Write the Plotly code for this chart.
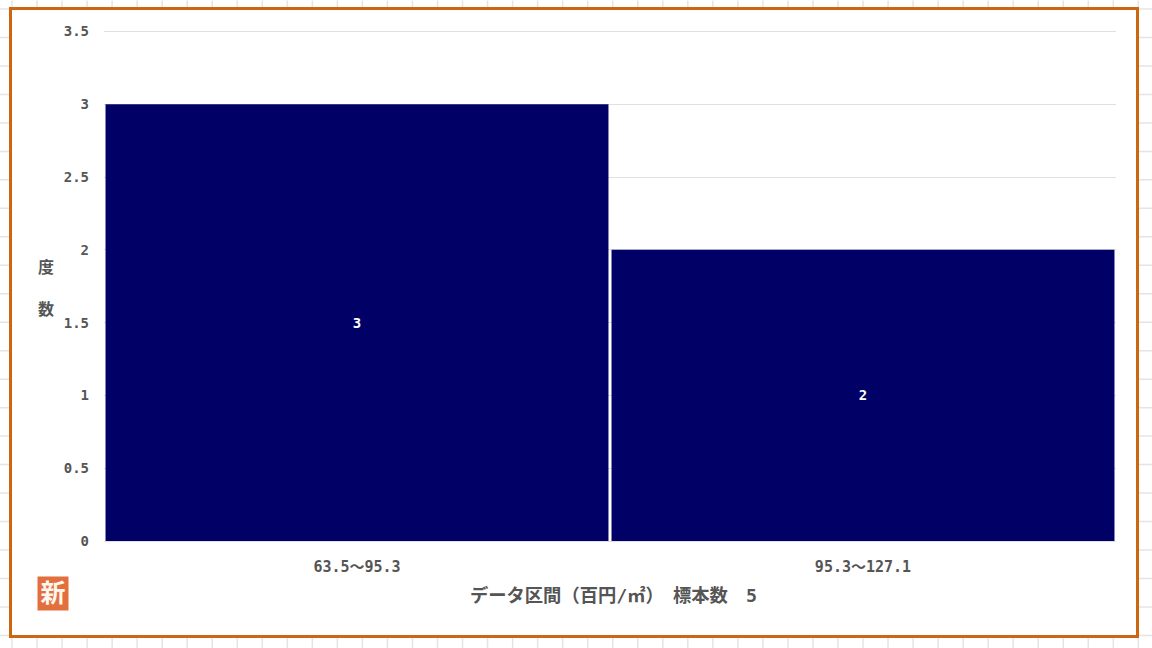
import plotly.graph_objects as go

categories = ["63.5～95.3", "95.3～127.1"]
frequencies = [3, 2]
y_ticks = [0, 0.5, 1, 1.5, 2, 2.5, 3, 3.5]
y_tick_labels = ["0", "0.5", "1", "1.5", "2", "2.5", "3", "3.5"]
x_title = "データ区間（百円/㎡）　標本数　5"
y_title = "度<br><br>数"
stamp = "新"

W, H = 1152, 648
L, R, T, B = 104, 36, 29.5, 107
PW, PH = W - L - R, H - T - B
px = lambda v: (v - L) / PW
py = lambda v: 1 - (v - T) / PH

FONT = "DejaVu Sans Mono, Noto Sans CJK JP, sans-serif"
TXT = "#555555"

shapes = []
# spreadsheet grid behind the chart panel
for i in range(47):
    xv = 12 + 25.03 * i
    shapes.append(dict(type="line", xref="paper", yref="paper", layer="below",
                       x0=px(xv), x1=px(xv), y0=py(0), y1=py(H),
                       line=dict(color="#e4e4e4", width=1.5)))
for j in range(23):
    yv = 8.5 + 28.5 * j
    shapes.append(dict(type="line", xref="paper", yref="paper", layer="below",
                       x0=px(0), x1=px(W), y0=py(yv), y1=py(yv),
                       line=dict(color="#e4e4e4", width=1.5)))
# chart panel with orange frame
shapes.append(dict(type="rect", xref="paper", yref="paper", layer="below",
                   x0=px(10.5), x1=px(1137.5), y0=py(8), y1=py(636.5),
                   fillcolor="white", line=dict(color="#CC6611", width=3)))

fig = go.Figure(go.Bar(
    x=categories, y=frequencies,
    marker=dict(color="#000066", line=dict(width=0)),
    text=[str(v) for v in frequencies],
    textposition="inside", insidetextanchor="middle",
    textangle=0,
    textfont=dict(color="white", size=14, family=FONT, weight="bold"),
    hoverinfo="skip",
))

fig.update_layout(
    width=W, height=H,
    margin=dict(l=L, r=R, t=T, b=B, pad=0),
    paper_bgcolor="white", plot_bgcolor="rgba(0,0,0,0)",
    bargap=0.006, showlegend=False,
    font=dict(family=FONT, color=TXT, size=14),
    shapes=shapes,
    xaxis=dict(
        type="category", range=[-0.5, 1.5], showgrid=False, ticks="",
        showline=False, zeroline=False, ticklabelstandoff=15,
        tickfont=dict(size=15, color=TXT, family=FONT, weight="bold"),
        title=None,
    ),
    yaxis=dict(
        range=[0, 3.51], tickmode="array", tickvals=y_ticks, ticktext=y_tick_labels,
        showgrid=True, gridcolor="#e0e0e0", gridwidth=1.2,
        zeroline=True, zerolinecolor="#e0e0e0", zerolinewidth=1.2,
        showline=False, ticks="", ticklabelstandoff=14,
        tickfont=dict(size=14, color=TXT, family=FONT, weight="bold"),
    ),
    annotations=[
        dict(text=x_title, xref="paper", yref="paper", x=px(613), y=py(596),
             showarrow=False, xanchor="center", yanchor="middle",
             font=dict(size=18.3, color=TXT, family=FONT, weight="bold")),
        dict(text=y_title, xref="paper", yref="paper", x=px(46), y=py(288),
             showarrow=False, xanchor="center", yanchor="middle",
             font=dict(size=16, color=TXT, family=FONT, weight="bold"), align="center"),
        dict(text=stamp, xref="paper", yref="paper", x=px(52.5), y=py(594),
             showarrow=False, xanchor="center", yanchor="middle",
             width=30, height=33, bgcolor="#E2703F", borderpad=0,
             font=dict(size=25, color="#fff6ee", family=FONT, weight="bold")),
    ],
)

fig.write_html("out.html", config=dict(displayModeBar=False),
               post_script="document.body.style.margin='0';")
